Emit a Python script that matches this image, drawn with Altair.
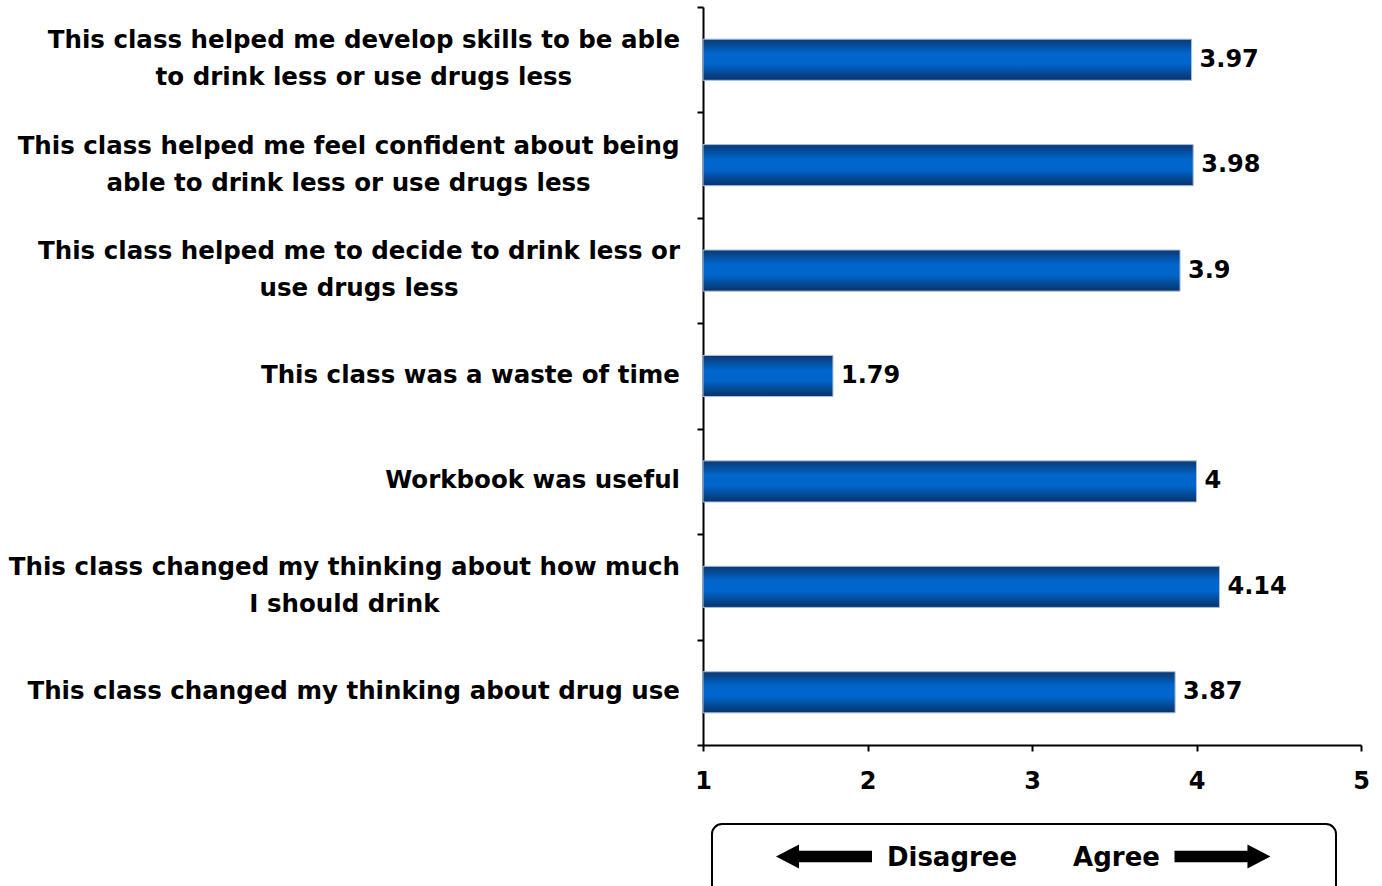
import altair as alt
import pandas as pd

# ---- data ----
questions = [
    "This class helped me develop skills to be able\nto drink less or use drugs less",
    "This class helped me feel confident about being\nable to drink less or use drugs less",
    "This class helped me to decide to drink less or\nuse drugs less",
    "This class was a waste of time",
    "Workbook was useful",
    "This class changed my thinking about how much\nI should drink",
    "This class changed my thinking about drug use",
]
scores = [3.97, 3.98, 3.9, 1.79, 4, 4.14, 3.87]
x_ticks = [1, 2, 3, 4, 5]
legend_words = ["Disagree", "Agree"]

FONT = "DejaVu Sans"
LABEL_SIZE = 24.5
LABEL_GAP = 23  # px between label block and the axis

# approximate advance widths (em) of DejaVu Sans Bold, used to centre
# the shorter line of a two-line label under its longer line
ADV = {
    " ": 0.348, "a": 0.675, "b": 0.716, "c": 0.593, "d": 0.716, "e": 0.678,
    "f": 0.435, "g": 0.716, "h": 0.712, "i": 0.343, "k": 0.665, "l": 0.343,
    "m": 1.042, "n": 0.712, "o": 0.687, "p": 0.716, "r": 0.493, "s": 0.595,
    "t": 0.478, "u": 0.712, "v": 0.652, "w": 0.924, "y": 0.652, "T": 0.682,
    "I": 0.372, "W": 1.103,
}


def text_width(s):
    return sum(ADV.get(ch, 0.65) for ch in s) * LABEL_SIZE


df = pd.DataFrame({"question": questions, "score": scores})
df["label"] = [f"{v:g}" for v in scores]
df["multi"] = df["question"].str.contains("\n")
df["base"] = 1
df["lx"] = [
    -LABEL_GAP - max(text_width(line) for line in q.split("\n")) / 2 for q in questions
]

gradient = {
    "gradient": "linear",
    "x1": 0, "y1": 0, "x2": 0, "y2": 1,
    "stops": [
        {"offset": 0.0, "color": "#0b3872"},
        {"offset": 0.35, "color": "#0066cc"},
        {"offset": 0.6, "color": "#0066cc"},
        {"offset": 1.0, "color": "#08326a"},
    ],
}

yenc = alt.Y(
    "question:N",
    sort=questions,
    scale=alt.Scale(paddingInner=0, paddingOuter=0),
    axis=alt.Axis(
        labels=False, title=None, tickBand="extent", tickSize=6, tickWidth=2,
        tickColor="black", domainColor="black", domainWidth=2, grid=False,
    ),
)

base = alt.Chart(df)

bars = base.mark_bar(
    color=gradient, stroke="#a9bedb", strokeWidth=1, height={"band": 0.39}
).encode(
    x=alt.X(
        "score:Q",
        scale=alt.Scale(domain=[1, 5], zero=False, nice=False),
        axis=alt.Axis(
            values=x_ticks, format="d", title=None, grid=False, tickSize=6,
            tickWidth=2, tickColor="black", domainColor="black", domainWidth=2,
            labelFont=FONT, labelFontSize=24, labelFontWeight="bold",
            labelColor="black", labelPadding=18, labelFlush=False,
        ),
    ),
    x2="base:Q",
    y=yenc,
)

ysimple = alt.Y("question:N", sort=questions)

values = base.mark_text(
    align="left", baseline="middle", dx=8, font=FONT, fontSize=24,
    fontWeight="bold", color="black",
).encode(x="score:Q", y=ysimple, text="label:N")

single = base.transform_filter("!datum.multi").mark_text(
    align="right", baseline="middle", font=FONT, fontSize=LABEL_SIZE,
    fontWeight="bold", color="black",
).encode(x=alt.value(-LABEL_GAP), y=ysimple, text="question:N")

multi = base.transform_filter("datum.multi").mark_text(
    align="center", baseline="middle", font=FONT, fontSize=LABEL_SIZE,
    fontWeight="bold", color="black", lineBreak="\n", lineHeight=37, dy=-18.5,
).encode(x=alt.X("lx:Q", scale=None), y=ysimple, text="question:N")

one = alt.Chart(pd.DataFrame({"k": [0]}))

box = one.mark_rect(
    filled=False, stroke="black", strokeWidth=2, cornerRadius=10, fill=None
).encode(x=alt.value(9), x2=alt.value(633), y=alt.value(817), y2=alt.value(905))

left_path = "M-1,0L-0.52,-0.25L-0.52,-0.12L1,-0.12L1,0.12L-0.52,0.12L-0.52,0.25Z"
right_path = "M1,0L0.52,-0.25L0.52,-0.12L-1,-0.12L-1,0.12L0.52,0.12L0.52,0.25Z"

arrow_l = one.mark_point(
    shape=left_path, filled=True, color="black", size=9216, opacity=1, strokeWidth=0
).encode(x=alt.value(121), y=alt.value(849.5))
arrow_r = one.mark_point(
    shape=right_path, filled=True, color="black", size=9216, opacity=1, strokeWidth=0
).encode(x=alt.value(519.5), y=alt.value(849.5))

words = pd.DataFrame({"w": legend_words})
word_l = alt.Chart(words).transform_filter(alt.datum.w == legend_words[0]).mark_text(
    align="center", baseline="middle", font=FONT, fontSize=26, fontWeight="bold", color="black"
).encode(x=alt.value(249), y=alt.value(851), text="w:N")
word_r = alt.Chart(words).transform_filter(alt.datum.w == legend_words[1]).mark_text(
    align="center", baseline="middle", font=FONT, fontSize=26, fontWeight="bold", color="black"
).encode(x=alt.value(413.5), y=alt.value(851), text="w:N")

chart = (
    alt.layer(bars, values, single, multi, box, arrow_l, arrow_r, word_l, word_r)
    .properties(
        width=658, height=738,
        padding={"left": 703, "top": 7, "right": 21, "bottom": 141},
        autosize=alt.AutoSizeParams(type="none"),
        background="white",
    )
    .configure_view(stroke=None)
)

chart.save("out.html", embed_options={"renderer": "svg", "actions": False})
